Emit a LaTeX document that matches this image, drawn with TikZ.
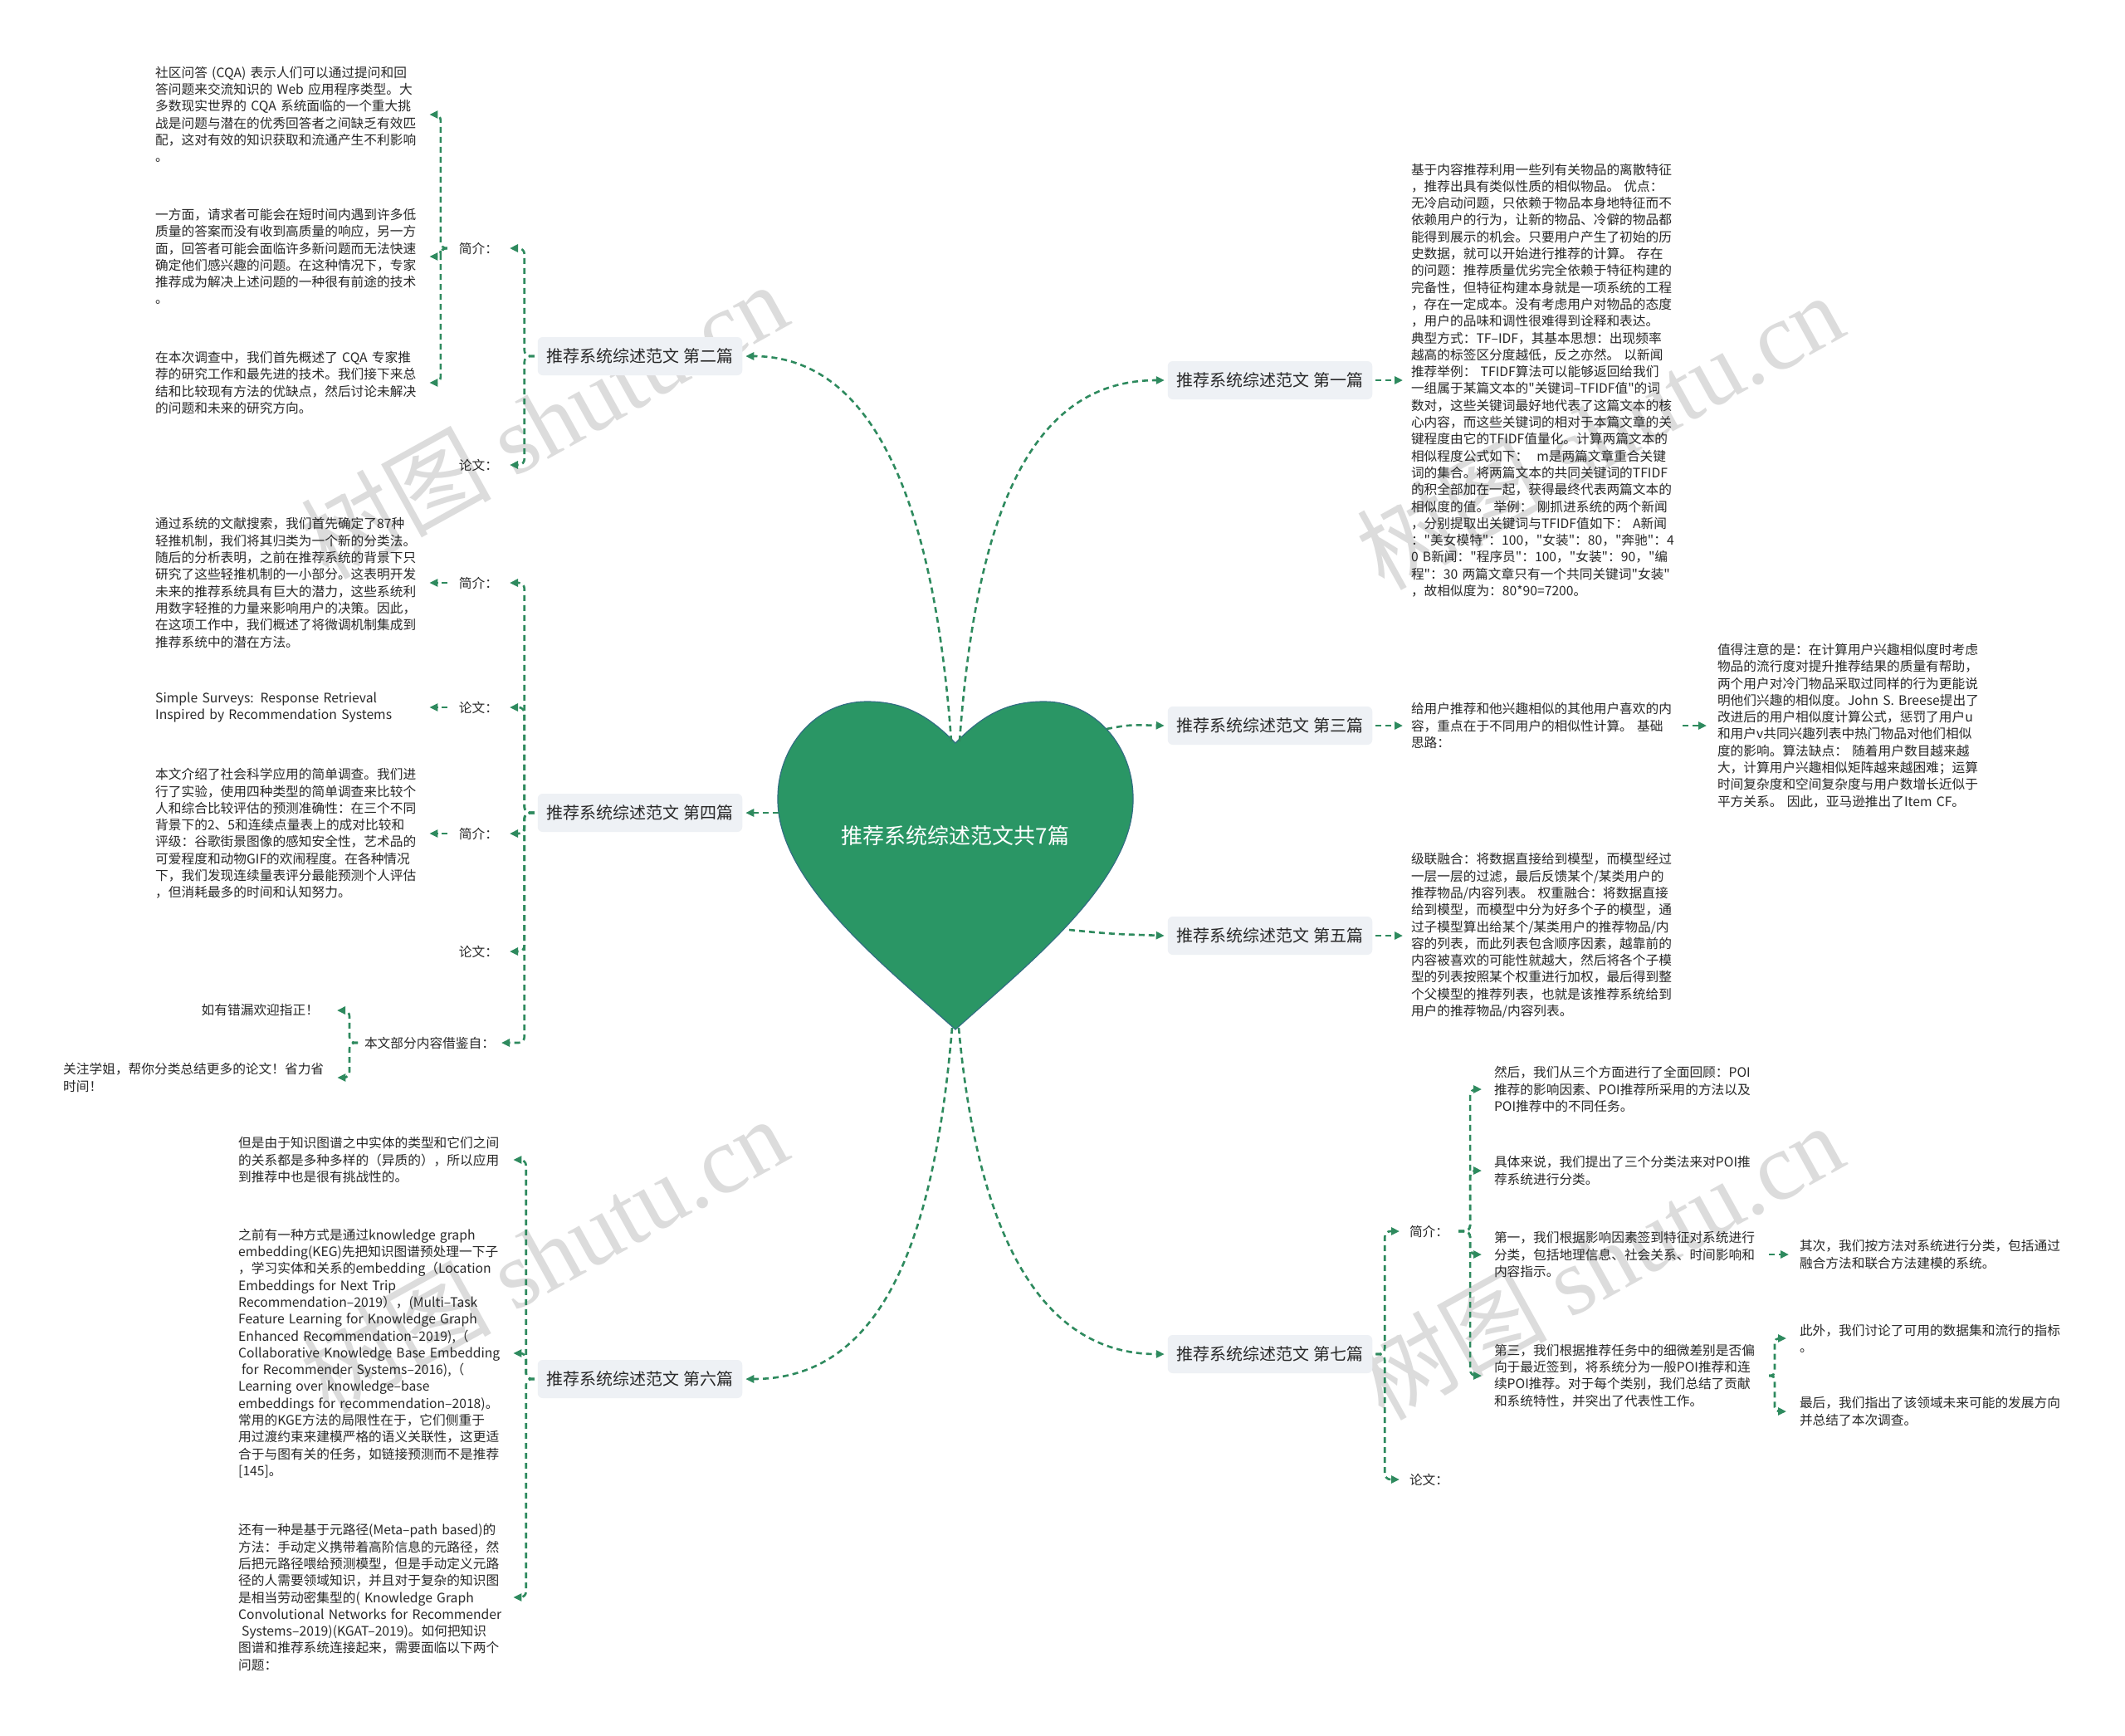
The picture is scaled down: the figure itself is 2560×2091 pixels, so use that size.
\documentclass[tikz,border=0pt]{standalone}
\usepackage{fontspec}
\setmainfont{Noto Sans CJK SC}[Ligatures=TeXOff]
\newfontfamily\wmserif{Liberation Serif}
\usetikzlibrary{arrows.meta}
\definecolor{lk}{RGB}{46,138,94}
\definecolor{hg}{RGB}{42,150,101}
\definecolor{hb}{RGB}{50,110,130}
\definecolor{bx}{RGB}{238,241,245}
\definecolor{tx}{RGB}{40,40,40}
\definecolor{wmc}{RGB}{220,220,220}
\newcommand\mybody{\fontsize{15.7pt}{20.3pt}\selectfont}
\newcommand\mytitle{\fontsize{20pt}{24pt}\selectfont}
\tikzset{
 conn/.style={draw=lk, line width=2.6pt, dash pattern=on 7pt off 5pt, -{Triangle[length=10pt,width=9pt]}},
 rconn/.style={conn, rounded corners=7pt},
 tbox/.style={fill=bx, rounded corners=6pt, inner xsep=11pt, inner ysep=0pt, minimum height=46pt, font=\mytitle, text=tx, outer sep=4pt},
 blk/.style={inner sep=0pt, align=left, font=\mybody, text=tx},
 lbl/.style={inner sep=0pt, font=\mybody, text=tx, outer xsep=14pt},
 wmark/.style={text=wmc, rotate=29, font=\fontsize{115pt}{120pt}\selectfont, inner sep=0pt},
}
\begin{document}
\begin{tikzpicture}[x=1pt,y=-1pt]
\path[use as bounding box, fill=white] (0,0) rectangle (2560,2091);

% watermarks
\node[wmark] (wm1) at (655,506) {树图 {\wmserif shutu.cn}};
\node[wmark] (wm2) at (1927,519) {树图 {\wmserif shutu.cn}};
\node[wmark] (wm3) at (655,1511) {树图 {\wmserif shutu.cn}};
\node[wmark] (wm4) at (1927,1519) {树图 {\wmserif shutu.cn}};

% heart
\path[fill=hg, draw=hb, line width=1.2pt] (1151,895) .. controls (1185,860) and (1215,845) .. (1258,845) .. controls (1320,845) and (1365,900) .. (1365,961) .. controls (1367,1060) and (1240,1160) .. (1151,1240) .. controls (1062,1160) and (935,1060) .. (937,961) .. controls (937,900) and (982,845) .. (1044,845) .. controls (1087,845) and (1117,860) .. (1151,895) -- cycle;
\node[font=\fontsize{26pt}{30pt}\selectfont, text=white] (root) at (1151,1007) {推荐系统综述范文共7篇};

\coordinate (hA) at (1146,893);
\coordinate (hB) at (1156,893);
\coordinate (hC) at (1333,878);
\coordinate (hD) at (938,979);
\coordinate (hE) at (1288,1120);
\coordinate (hF) at (1147,1238);
\coordinate (hG) at (1155,1238);

% titles
\node[tbox] (t2) at (771,429) {推荐系统综述范文 第二篇};
\node[tbox] (t4) at (771,979) {推荐系统综述范文 第四篇};
\node[tbox] (t6) at (771,1661) {推荐系统综述范文 第六篇};
\node[tbox] (t1) at (1530,458) {推荐系统综述范文 第一篇};
\node[tbox] (t3) at (1530,874) {推荐系统综述范文 第三篇};
\node[tbox] (t5) at (1530,1127) {推荐系统综述范文 第五篇};
\node[tbox] (t7) at (1530,1631) {推荐系统综述范文 第七篇};

\draw[conn] (hA) .. controls (1125,600) and (1050,429) .. (t2.east);
\draw[conn] (hB) .. controls (1177,600) and (1250,458) .. (t1.west);
\draw[conn] (hC) .. controls (1360,873) .. (t3.west);
\draw[conn] (hD) -- (t4.east);
\draw[conn] (hE) .. controls (1340,1125) .. (t5.west);
\draw[conn] (hF) .. controls (1125,1500) and (1060,1661) .. (t6.east);
\draw[conn] (hG) .. controls (1177,1480) and (1250,1631) .. (t7.west);

% ---------- second
\node[lbl, anchor=east] (l2a) at (614,299) {简介：};
\node[lbl, anchor=east] (l2b) at (614,560) {论文：};
\draw[rconn] (t2.west) -- ++(-12,0) |- (l2a.east);
\draw[rconn] (t2.west) -- ++(-12,0) |- (l2b.east);
\node[blk, anchor=west, text width=330pt] (bA) at (187,138) {社区问答 (CQA) 表示人们可以通过提问和回\\答问题来交流知识的 Web 应用程序类型。大\\多数现实世界的 CQA 系统面临的一个重大挑\\战是问题与潜在的优秀回答者之间缺乏有效匹\\配，这对有效的知识获取和流通产生不利影响\\。};
\node[blk, anchor=west, text width=330pt] (bB) at (187,309) {一方面，请求者可能会在短时间内遇到许多低\\质量的答案而没有收到高质量的响应，另一方\\面，回答者可能会面临许多新问题而无法快速\\确定他们感兴趣的问题。在这种情况下，专家\\推荐成为解决上述问题的一种很有前途的技术\\。};
\node[blk, anchor=west, text width=330pt] (bC) at (187,461) {在本次调查中，我们首先概述了 CQA 专家推\\荐的研究工作和最先进的技术。我们接下来总\\结和比较现有方法的优缺点，然后讨论未解决\\的问题和未来的研究方向。};
\draw[rconn] (l2a.west) -- ++(-8,0) |- (bA.east);
\draw[rconn] (l2a.west) -- ++(-8,0) |- (bB.east);
\draw[rconn] (l2a.west) -- ++(-8,0) |- (bC.east);

% ---------- fourth
\node[lbl, anchor=east] (l4a) at (614,702) {简介：};
\node[lbl, anchor=east] (l4b) at (614,852) {论文：};
\node[lbl, anchor=east] (l4c) at (614,1004) {简介：};
\node[lbl, anchor=east] (l4d) at (614,1146) {论文：};
\node[lbl, anchor=east, outer xsep=8pt] (l4e) at (604,1256) {本文部分内容借鉴自：};
\draw[rconn] (t4.west) -- ++(-12,0) |- (l4a.east);
\draw[rconn] (t4.west) -- ++(-12,0) |- (l4b.east);
\draw[rconn] (t4.west) -- ++(-12,0) |- (l4c.east);
\draw[rconn] (t4.west) -- ++(-12,0) |- (l4d.east);
\draw[rconn] (t4.west) -- ++(-12,0) |- (l4e.east);
\node[blk, anchor=west, text width=330pt] (bD) at (187,702) {通过系统的文献搜索，我们首先确定了87种\\轻推机制，我们将其归类为一个新的分类法。\\随后的分析表明，之前在推荐系统的背景下只\\研究了这些轻推机制的一小部分。这表明开发\\未来的推荐系统具有巨大的潜力，这些系统利\\用数字轻推的力量来影响用户的决策。因此，\\在这项工作中，我们概述了将微调机制集成到\\推荐系统中的潜在方法。};
\node[blk, anchor=west, text width=330pt] (bE) at (187,852) {Simple Surveys: Response Retrieval\\Inspired by Recommendation Systems};
\node[blk, anchor=west, text width=330pt] (bF) at (187,1004) {本文介绍了社会科学应用的简单调查。我们进\\行了实验，使用四种类型的简单调查来比较个\\人和综合比较评估的预测准确性：在三个不同\\背景下的2、5和连续点量表上的成对比较和\\评级：谷歌街景图像的感知安全性，艺术品的\\可爱程度和动物GIF的欢闹程度。在各种情况\\下，我们发现连续量表评分最能预测个人评估\\，但消耗最多的时间和认知努力。};
\draw[conn] (l4a.west) -- (bD.east);
\draw[conn] (l4b.west) -- (bE.east);
\draw[conn] (l4c.west) -- (bF.east);
\node[blk, anchor=east, outer xsep=22pt] (w1) at (406,1217) {如有错漏欢迎指正！};
\node[blk, anchor=west, text width=330pt] (w2) at (76,1298) {关注学姐，帮你分类总结更多的论文！省力省\\时间！};
\draw[rconn] (l4e.west) -- ++(-10,0) |- (w1.east);
\draw[rconn] (l4e.west) -- ++(-10,0) |- (w2.east);

% ---------- sixth
\node[blk, anchor=west, text width=331pt] (bG) at (287,1397) {但是由于知识图谱之中实体的类型和它们之间\\的关系都是多种多样的（异质的），所以应用\\到推荐中也是很有挑战性的。};
\node[blk, anchor=west, text width=331pt] (bH) at (287,1630) {之前有一种方式是通过knowledge graph\\embedding(KEG)先把知识图谱预处理一下子\\，学习实体和关系的embedding（Location\\Embeddings for Next Trip\\Recommendation–2019），(Multi–Task\\Feature Learning for Knowledge Graph\\Enhanced Recommendation–2019),（\\Collaborative Knowledge Base Embedding\\\hspace*{4pt}for Recommender Systems–2016),（\\Learning over knowledge–base\\embeddings for recommendation–2018)。\\常用的KGE方法的局限性在于，它们侧重于\\用过渡约束来建模严格的语义关联性，这更适\\合于与图有关的任务，如链接预测而不是推荐\\{}[145]。};
\node[blk, anchor=west, text width=331pt] (bI) at (287,1924) {还有一种是基于元路径(Meta–path based)的\\方法：手动定义携带着高阶信息的元路径，然\\后把元路径喂给预测模型，但是手动定义元路\\径的人需要领域知识，并且对于复杂的知识图\\是相当劳动密集型的( Knowledge Graph\\Convolutional Networks for Recommender\\\hspace*{4pt}Systems–2019)(KGAT–2019)。如何把知识\\图谱和推荐系统连接起来，需要面临以下两个\\问题：};
\draw[rconn] (t6.west) -- ++(-10,0) |- (bG.east);
\draw[rconn] (t6.west) -- ++(-10,0) |- (bH.east);
\draw[rconn] (t6.west) -- ++(-10,0) |- (bI.east);

% ---------- first
\node[blk, anchor=west, text width=330pt, outer xsep=10pt] (bJ) at (1690,458) {基于内容推荐利用一些列有关物品的离散特征\\，推荐出具有类似性质的相似物品。 优点：\\无冷启动问题，只依赖于物品本身地特征而不\\依赖用户的行为，让新的物品、冷僻的物品都\\能得到展示的机会。只要用户产生了初始的历\\史数据，就可以开始进行推荐的计算。 存在\\的问题：推荐质量优劣完全依赖于特征构建的\\完备性，但特征构建本身就是一项系统的工程\\，存在一定成本。没有考虑用户对物品的态度\\，用户的品味和调性很难得到诠释和表达。\\典型方式：TF–IDF，其基本思想：出现频率\\越高的标签区分度越低，反之亦然。 以新闻\\推荐举例： TFIDF算法可以能够返回给我们\\一组属于某篇文本的"关键词–TFIDF值"的词\\数对，这些关键词最好地代表了这篇文本的核\\心内容，而这些关键词的相对于本篇文章的关\\键程度由它的TFIDF值量化。计算两篇文本的\\相似程度公式如下：\hspace{10pt}m是两篇文章重合关键\\词的集合。将两篇文本的共同关键词的TFIDF\\的积全部加在一起，获得最终代表两篇文本的\\相似度的值。 举例： 刚抓进系统的两个新闻\\，分别提取出关键词与TFIDF值如下： A新闻\\："美女模特"：100，"女装"：80，"奔驰"：4\\0 B新闻："程序员"：100，"女装"：90，"编\\程"：30 两篇文章只有一个共同关键词"女装"\\，故相似度为：80*90=7200。};
\draw[conn] (t1.east) -- (bJ.west);

% ---------- third
\node[blk, anchor=west, text width=317pt, outer xsep=10pt] (bK) at (1690,874) {给用户推荐和他兴趣相似的其他用户喜欢的内\\容，重点在于不同用户的相似性计算。 基础\\思路：};
\node[blk, anchor=west, text width=330pt, outer xsep=13pt] (bL) at (2056,874) {值得注意的是：在计算用户兴趣相似度时考虑\\物品的流行度对提升推荐结果的质量有帮助，\\两个用户对冷门物品采取过同样的行为更能说\\明他们兴趣的相似度。John S. Breese提出了\\改进后的用户相似度计算公式，惩罚了用户u\\和用户v共同兴趣列表中热门物品对他们相似\\度的影响。算法缺点： 随着用户数目越来越\\大，计算用户兴趣相似矩阵越来越困难；运算\\时间复杂度和空间复杂度与用户数增长近似于\\平方关系。 因此，亚马逊推出了Item CF。};
\draw[conn] (t3.east) -- (bK.west);
\draw[conn] (bK.east) -- (bL.west);

% ---------- fifth
\node[blk, anchor=west, text width=330pt, outer xsep=10pt] (bM) at (1690,1127) {级联融合：将数据直接给到模型，而模型经过\\一层一层的过滤，最后反馈某个/某类用户的\\推荐物品/内容列表。 权重融合：将数据直接\\给到模型，而模型中分为好多个子的模型，通\\过子模型算出给某个/某类用户的推荐物品/内\\容的列表，而此列表包含顺序因素，越靠前的\\内容被喜欢的可能性就越大，然后将各个子模\\型的列表按照某个权重进行加权，最后得到整\\个父模型的推荐列表，也就是该推荐系统给到\\用户的推荐物品/内容列表。};
\draw[conn] (t5.east) -- (bM.west);

% ---------- seventh
\node[lbl, anchor=west, outer xsep=12pt] (l7a) at (1686,1483) {简介：};
\node[lbl, anchor=west, outer xsep=12pt] (l7b) at (1686,1782) {论文：};
\draw[rconn] (t7.east) -- ++(11,0) |- (l7a.west);
\draw[rconn] (t7.east) -- ++(11,0) |- (l7b.west);
\node[blk, anchor=west, text width=316pt, outer xsep=15pt] (n1) at (1785,1312) {然后，我们从三个方面进行了全面回顾：POI\\推荐的影响因素、POI推荐所采用的方法以及\\POI推荐中的不同任务。};
\node[blk, anchor=west, text width=316pt, outer xsep=15pt] (n2) at (1785,1410) {具体来说，我们提出了三个分类法来对POI推\\荐系统进行分类。};
\node[blk, anchor=west, text width=316pt, outer xsep=15pt] (n3) at (1785,1511) {第一，我们根据影响因素签到特征对系统进行\\分类，包括地理信息、社会关系、时间影响和\\内容指示。};
\node[blk, anchor=west, text width=316pt, outer xsep=15pt] (n4) at (1785,1657) {第三，我们根据推荐任务中的细微差别是否偏\\向于最近签到，将系统分为一般POI推荐和连\\续POI推荐。对于每个类别，我们总结了贡献\\和系统特性，并突出了代表性工作。};
\draw[rconn] (l7a.east) -- ++(14,0) |- (n1.west);
\draw[rconn] (l7a.east) -- ++(14,0) |- (n2.west);
\draw[rconn] (l7a.east) -- ++(14,0) |- (n3.west);
\draw[rconn] (l7a.east) -- ++(14,0) |- (n4.west);
\node[blk, anchor=west, text width=330pt, outer xsep=13pt] (n3a) at (2155,1511) {其次，我们按方法对系统进行分类，包括通过\\融合方法和联合方法建模的系统。};
\draw[conn] (n3.east) -- (n3a.west);
\node[blk, anchor=west, text width=330pt, outer xsep=16pt] (n4a) at (2152,1612) {此外，我们讨论了可用的数据集和流行的指标\\。};
\node[blk, anchor=west, text width=330pt, outer xsep=16pt] (n4b) at (2152,1700) {最后，我们指出了该领域未来可能的发展方向\\并总结了本次调查。};
\draw[conn, rounded corners=5pt] (n4.east) -- ++(7,0) |- (n4a.west);
\draw[conn, rounded corners=5pt] (n4.east) -- ++(7,0) |- (n4b.west);
\end{tikzpicture}
\end{document}
